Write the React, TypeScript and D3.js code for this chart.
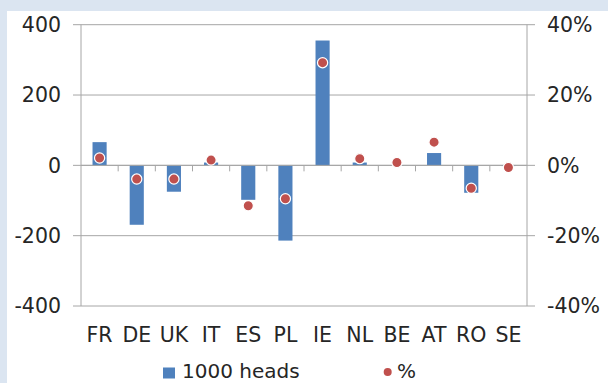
import React from "react";
import * as d3 from "d3";

const categories = ["FR", "DE", "UK", "IT", "ES", "PL", "IE", "NL", "BE", "AT", "RO", "SE"];
const heads = [66, -169, -75, 8, -98, -214, 355, 8, 1, 35, -78, -2];
const pct = [0.021, -0.039, -0.039, 0.015, -0.115, -0.095, 0.292, 0.019, 0.008, 0.066, -0.065, -0.006];
const leftTicks = [-400, -200, 0, 200, 400];
const rightTicks = [-0.4, -0.2, 0, 0.2, 0.4];
const legendLabels = ["1000 heads", "%"];

const W = 608;
const H = 383;
const FONT = "'DejaVu Sans', Verdana, sans-serif";
const BLUE = "#4f81bd";
const RED = "#c0504d";
const GRID = "#a6a6a6";
const TEXT = "#262626";

export default function App() {
  const left = 81;
  const right = 527;
  const top = 24.7;
  const bottom = 306;

  const x = d3.scaleBand<string>().domain(categories).range([left, right]).padding(0);
  const yL = d3.scaleLinear().domain([-400, 400]).range([bottom, top]);
  const yR = d3.scaleLinear().domain([-0.4, 0.4]).range([bottom, top]);
  const bw = x.bandwidth() * 0.38;
  const y0 = yL(0);
  const fmtPct = d3.format(".0%");

  return (
    <svg
      width={W}
      height={H}
      style={{ position: "absolute", left: 0, top: 0, display: "block" }}
      fontFamily={FONT}
    >
      <rect x={0} y={0} width={W} height={H} fill="#dbe5f1" />
      <rect x={7} y={11} width={W - 7} height={H - 11} fill="#ffffff" />

      {/* gridlines */}
      {leftTicks.map((t) => (
        <line key={"g" + t} x1={left} x2={right} y1={yL(t)} y2={yL(t)} stroke={GRID} strokeWidth={1} />
      ))}
      {/* left axis ticks */}
      {leftTicks.map((t) => (
        <line key={"lt" + t} x1={left - 8} x2={left} y1={yL(t)} y2={yL(t)} stroke={GRID} strokeWidth={1} />
      ))}
      {rightTicks.map((t) => (
        <line key={"rt" + t} x1={right} x2={right + 8} y1={yR(t)} y2={yR(t)} stroke={GRID} strokeWidth={1} />
      ))}

      {/* bars */}
      {categories.map((c, i) => {
        const v = heads[i];
        const yv = yL(v);
        return (
          <rect
            key={"b" + c}
            x={(x(c) as number) + x.bandwidth() / 2 - bw / 2}
            y={Math.min(yv, y0)}
            width={bw}
            height={Math.abs(yv - y0)}
            fill={BLUE}
          />
        );
      })}

      {/* axes */}
      <line x1={left} x2={left} y1={top} y2={bottom} stroke={GRID} strokeWidth={1} />
      <line x1={right} x2={right} y1={top} y2={bottom} stroke={GRID} strokeWidth={1} />
      <line x1={left} x2={right} y1={y0} y2={y0} stroke={GRID} strokeWidth={1} />
      {categories.slice(1).map((c) => (
        <line key={"ct" + c} x1={x(c) as number} x2={x(c) as number} y1={y0} y2={y0 + 6} stroke={GRID} strokeWidth={1} />
      ))}

      {/* dots */}
      {categories.map((c, i) => (
        <circle
          key={"d" + c}
          cx={(x(c) as number) + x.bandwidth() / 2}
          cy={yR(pct[i])}
          r={5.1}
          fill={RED}
          stroke="#ffffff"
          strokeWidth={1.2}
        />
      ))}

      {/* left labels */}
      {leftTicks.map((t) => (
        <text key={"ll" + t} x={61} y={yL(t) + 7.3} fontSize={20.5} fill={TEXT} textAnchor="end">
          {String(t)}
        </text>
      ))}
      {/* right labels */}
      {rightTicks.map((t) => (
        <text key={"rl" + t} x={547} y={yR(t) + 7.3} fontSize={20.5} fill={TEXT} textAnchor="start">
          {fmtPct(t).replace("−", "-")}
        </text>
      ))}
      {/* category labels */}
      {categories.map((c) => (
        <text
          key={"cl" + c}
          x={(x(c) as number) + x.bandwidth() / 2}
          y={342.3}
          fontSize={20.5}
          fill={TEXT}
          textAnchor="middle"
        >
          {c}
        </text>
      ))}

      {/* legend */}
      <rect x={163} y={367.5} width={12} height={11} fill={BLUE} />
      <text x={182} y={378.3} fontSize={20} fill={TEXT}>
        {legendLabels[0]}
      </text>
      <circle cx={387.7} cy={372} r={4} fill={RED} />
      <text x={397} y={378.3} fontSize={20} fill={TEXT}>
        {legendLabels[1]}
      </text>
    </svg>
  );
}
